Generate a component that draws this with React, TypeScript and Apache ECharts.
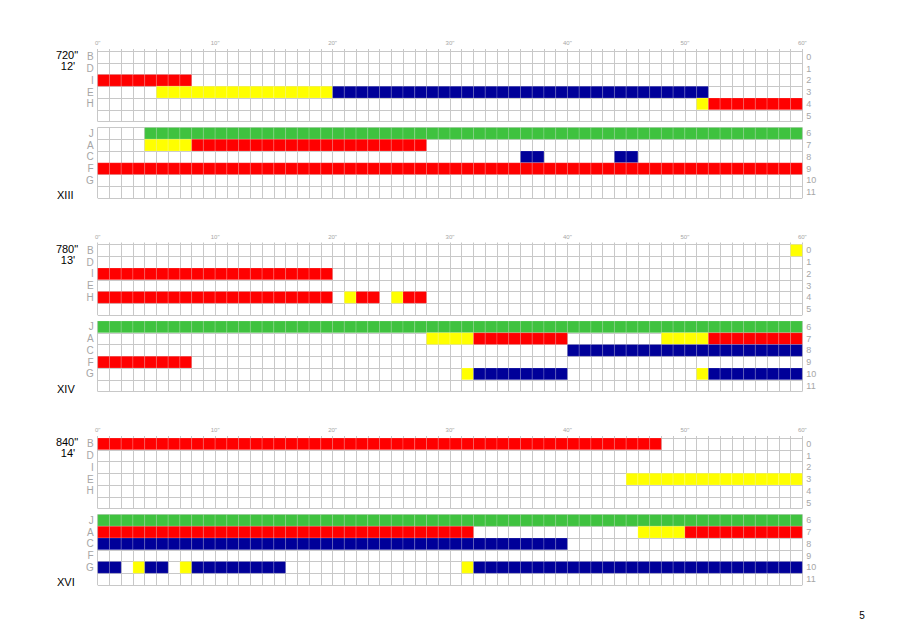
import React, { useEffect, useRef } from "react";
import * as echarts from "echarts";

// ---- data ----
const rowLetters = ["B", "D", "I", "E", "H", "", "J", "A", "C", "F", "G", ""];
const rowNumbers = ["0", "1", "2", "3", "4", "5", "6", "7", "8", "9", "10", "11"];
const secondTicks = [0, 10, 20, 30, 40, 50, 60];
const panelSeconds = ['720"', '780"', '840"'];
const panelMinutes = ["12'", "13'", "14'"];
const panelRoman = ["XIII", "XIV", "XVI"];
const pageNumber = "5";

// [row, startSecond, endSecond, kind]
const segmentsXIII: [number, number, number, string][] = [
  [2, 0, 8, "red"],
  [3, 5, 20, "yellow"],
  [3, 20, 52, "blue"],
  [4, 51, 52, "yellow"],
  [4, 52, 60, "red"],
  [6, 4, 60, "green"],
  [7, 4, 8, "yellow"],
  [7, 8, 28, "red"],
  [8, 36, 38, "blue"],
  [8, 44, 46, "blue"],
  [9, 0, 60, "red"],
];
const segmentsXIV: [number, number, number, string][] = [
  [0, 59, 60, "yellow"],
  [2, 0, 20, "red"],
  [4, 0, 20, "red"],
  [4, 21, 22, "yellow"],
  [4, 22, 24, "red"],
  [4, 25, 26, "yellow"],
  [4, 26, 28, "red"],
  [6, 0, 60, "green"],
  [7, 28, 32, "yellow"],
  [7, 32, 40, "red"],
  [7, 48, 52, "yellow"],
  [7, 52, 60, "red"],
  [8, 40, 60, "blue"],
  [9, 0, 8, "red"],
  [10, 31, 32, "yellow"],
  [10, 32, 40, "blue"],
  [10, 51, 52, "yellow"],
  [10, 52, 60, "blue"],
];
const segmentsXVI: [number, number, number, string][] = [
  [0, 0, 48, "red"],
  [3, 45, 60, "yellow"],
  [6, 0, 60, "green"],
  [7, 0, 32, "red"],
  [7, 46, 50, "yellow"],
  [7, 50, 60, "red"],
  [8, 0, 40, "blue"],
  [10, 0, 2, "blue"],
  [10, 3, 4, "yellow"],
  [10, 4, 6, "blue"],
  [10, 7, 8, "yellow"],
  [10, 8, 16, "blue"],
  [10, 31, 32, "yellow"],
  [10, 32, 60, "blue"],
];
const panelSegments = [segmentsXIII, segmentsXIV, segmentsXVI];

// ---- styles ----
const palette: Record<string, string> = {
  red: "#ff0000",
  yellow: "#ffff00",
  blue: "#000099",
  green: "#3fc23f",
};
const kindList = ["red", "yellow", "blue", "green"];
const FONT = "'Liberation Sans', Arial, sans-serif";
const GRID_COLOR = "#c8c8c8";
const LABEL_COLOR = "#a6a6a6";
const PANEL_TOPS = [51, 244.5, 438];
const CELL = 11.75;
const GAP = 6;

export default function App() {
  const ref = useRef<HTMLDivElement>(null);
  useEffect(() => {
    if (!ref.current) return;
    const chart = echarts.init(ref.current, undefined, { renderer: "svg" });
    const grids: any[] = [];
    const xAxes: any[] = [];
    const yAxes: any[] = [];
    const series: any[] = [];
    const graphics: any[] = [];

    PANEL_TOPS.forEach((top, p) => {
      for (let half = 0; half < 2; half++) {
        const gi = p * 2 + half;
        const gTop = top + half * (6 * CELL + GAP);
        grids.push({ left: 97.7, right: 97.7, top: gTop, height: 6 * CELL });
        xAxes.push({
          gridIndex: gi,
          type: "value",
          min: 0,
          max: 60,
          interval: 1,
          position: "top",
          axisLine: { show: false },
          axisTick: {
            show: half === 0,
            length: 2,
            lineStyle: { color: GRID_COLOR, width: 1 },
          },
          axisLabel: {
            show: half === 0,
            fontSize: 6,
            color: LABEL_COLOR,
            fontFamily: FONT,
            margin: 5,
            formatter: (v: number) =>
              secondTicks.indexOf(v) >= 0 ? v + '"' : "",
          },
          splitLine: { show: true, lineStyle: { color: GRID_COLOR, width: 1 } },
        });
        const letters = rowLetters.slice(half * 6, half * 6 + 6);
        const nums = rowNumbers.slice(half * 6, half * 6 + 6);
        yAxes.push({
          gridIndex: gi,
          type: "category",
          inverse: true,
          data: letters,
          position: "left",
          axisLine: { show: false },
          axisTick: { show: false },
          axisLabel: {
            fontSize: 10,
            color: LABEL_COLOR,
            fontFamily: FONT,
            margin: 4,
            interval: 0,
          },
          splitLine: { show: true, lineStyle: { color: GRID_COLOR, width: 1 } },
        });
        yAxes.push({
          gridIndex: gi,
          type: "category",
          inverse: true,
          data: nums,
          position: "right",
          axisLine: { show: false },
          axisTick: { show: false },
          axisLabel: {
            fontSize: 9,
            color: LABEL_COLOR,
            fontFamily: FONT,
            margin: 4,
            interval: 0,
          },
          splitLine: { show: false },
        });
        const data = panelSegments[p]
          .filter((s) => s[0] >= half * 6 && s[0] < half * 6 + 6)
          .map((s) => [s[1], s[2], s[0] - half * 6, kindList.indexOf(s[3])]);
        series.push({
          type: "custom",
          xAxisIndex: gi,
          yAxisIndex: gi * 2,
          encode: { x: [0, 1], y: 2 },
          data,
          renderItem: (params: any, api: any) => {
            const s = api.value(0);
            const e = api.value(1);
            const r = api.value(2);
            const kind = kindList[api.value(3)];
            const h = api.size([0, 1])[1];
            const children: any[] = [];
            for (let k = s; k < e; k++) {
              const a = api.coord([k, r]);
              const b = api.coord([k + 1, r]);
              children.push({
                type: "rect",
                shape: { x: a[0], y: a[1] - h / 2, width: b[0] - a[0], height: h },
                style: {
                  fill: palette[kind],
                  stroke: "rgba(255,255,255,0.28)",
                  lineWidth: 0.6,
                },
              });
            }
            return { type: "group", children };
          },
        });
      }
      graphics.push({
        type: "text",
        x: 67,
        y: top + 4,
        style: {
          text: panelSeconds[p],
          font: `11px ${FONT}`,
          fill: "#000",
          textAlign: "center",
          textVerticalAlign: "middle",
        },
      });
      graphics.push({
        type: "text",
        x: 68,
        y: top + 15,
        style: {
          text: panelMinutes[p],
          font: `11px ${FONT}`,
          fill: "#000",
          textAlign: "center",
          textVerticalAlign: "middle",
        },
      });
      graphics.push({
        type: "text",
        x: 57,
        y: top + 144,
        style: {
          text: panelRoman[p],
          font: `11px ${FONT}`,
          fill: "#000",
          textAlign: "left",
          textVerticalAlign: "middle",
        },
      });
    });

    graphics.push({
      type: "text",
      x: 862,
      y: 615,
      style: {
        text: pageNumber,
        font: `10px ${FONT}`,
        fill: "#000",
        textAlign: "center",
        textVerticalAlign: "middle",
      },
    });

    chart.setOption({
      animation: false,
      backgroundColor: "#ffffff",
      grid: grids,
      xAxis: xAxes,
      yAxis: yAxes,
      series,
      graphic: graphics,
    });
    return () => chart.dispose();
  }, []);
  return (
    <div
      ref={ref}
      style={{ position: "fixed", left: 0, top: 0, width: 900, height: 636 }}
    />
  );
}
